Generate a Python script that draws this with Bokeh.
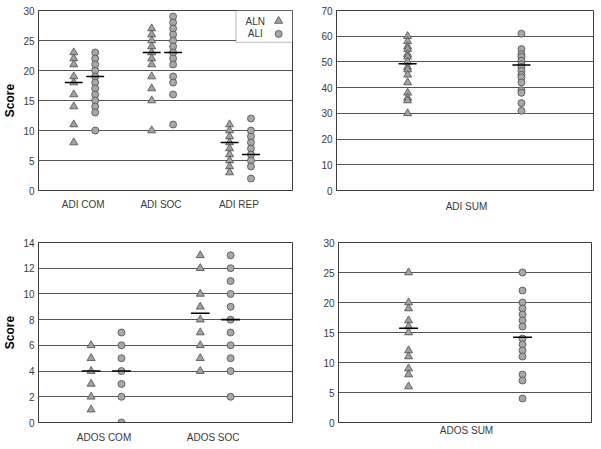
from bokeh.plotting import figure
from bokeh.layouts import column, row
from bokeh.models import Range1d, FixedTicker, BoxAnnotation, Label
from bokeh.embed import file_html
from bokeh.resources import INLINE

# ---------------- data ----------------
adi_cats = ["ADI COM", "ADI SOC", "ADI REP"]
adi_com_aln = [23, 22, 21, 19, 18, 16, 14, 11, 8]
adi_com_ali = [23, 22, 21, 20, 19, 18, 17, 16, 15, 14, 13, 10]
adi_soc_aln = [27, 26, 25, 24, 23, 22, 21, 19, 17, 15, 10]
adi_soc_ali = [29, 28, 27, 26, 25, 24, 23, 22, 21, 19, 18, 16, 11]
adi_rep_aln = [11, 10, 9, 8, 7, 6, 5, 4, 3]
adi_rep_ali = [12, 10, 9, 8, 7, 6, 5, 4, 2]
adi_med_aln = [18, 23, 8]
adi_med_ali = [19, 23, 6]

adi_sum_cats = ["ADI SUM"]
adi_sum_aln = [60, 58, 56, 55, 53, 52, 50, 48, 47, 45, 42, 38, 36, 35, 30]
adi_sum_ali = [61, 55, 53, 52, 50.5, 49, 48, 46.5, 45, 44, 42, 39, 38, 34, 31]
adi_sum_med_aln = [49.3]
adi_sum_med_ali = [48.8]

ados_cats = ["ADOS COM", "ADOS SOC"]
ados_com_aln = [6, 5, 4, 3, 2, 1]
ados_com_ali = [7, 6, 5, 4, 3, 2, 0]
ados_soc_aln = [13, 12, 10, 9, 8, 7, 6, 5, 4]
ados_soc_ali = [13, 12, 11, 10, 9, 8, 7, 6, 5, 4, 2]
ados_med_aln = [4, 8.5]
ados_med_ali = [4, 8]

ados_sum_cats = ["ADOS SUM"]
ados_sum_aln = [25, 20, 19, 17, 16, 15, 12, 11, 9, 8, 6]
ados_sum_ali = [25, 22, 20, 19, 18, 17, 16, 14, 13, 12, 11, 8, 7, 4]
ados_sum_med_aln = [15.7]
ados_sum_med_ali = [14.2]

series_names = ["ALN", "ALI"]

# ---------------- styling ----------------
FONT = "Liberation Sans"
TRI_FILL = "#a2a2a2"
CIR_FILL = "#a8a8a8"
EDGE = "#4a4a4a"
GRID = "#555555"


def make_panel(width, height, borders, x_range, y_max, y_step, cats, aln, ali,
               med_aln, med_ali, offsets, med_half, ylabel, label_standoff):
    l, r, t, b = borders
    p = figure(width=width, height=height,
               x_range=Range1d(*x_range), y_range=Range1d(0, y_max),
               output_backend="svg", toolbar_location=None,
               min_border_left=l, min_border_right=r,
               min_border_top=t, min_border_bottom=b)
    p.background_fill_color = "white"
    p.border_fill_color = "white"
    p.outline_line_color = "#3c3c3c"
    p.outline_line_width = 1
    p.xgrid.visible = False
    p.ygrid.grid_line_color = GRID
    p.ygrid.grid_line_width = 1

    p.yaxis.ticker = FixedTicker(ticks=list(range(0, y_max + 1, y_step)))
    p.xaxis.ticker = FixedTicker(ticks=list(range(len(cats))))
    p.xaxis.major_label_overrides = {i: s for i, s in enumerate(cats)}

    for ax in (p.xaxis[0], p.yaxis[0]):
        ax.axis_line_color = "#3c3c3c"
        ax.major_tick_out = 0
        ax.major_tick_in = 0
        ax.minor_tick_out = 0
        ax.minor_tick_in = 0
        ax.major_label_text_font = FONT
        ax.major_label_text_font_size = "10px"
        ax.major_label_text_color = "#3a3a3a"
    p.yaxis.major_label_standoff = 4
    p.xaxis.major_label_standoff = label_standoff
    if ylabel:
        p.yaxis.axis_label = ylabel
        p.yaxis.axis_label_text_font = FONT
        p.yaxis.axis_label_text_font_style = "bold"
        p.yaxis.axis_label_text_font_size = "12px"
        p.yaxis.axis_label_text_color = "black"
        p.yaxis.axis_label_standoff = 3

    for ci in range(len(cats)):
        xa = ci + offsets[0]
        xb = ci + offsets[1]
        p.scatter([xa] * len(aln[ci]), aln[ci], marker="triangle", size=8,
                  fill_color=TRI_FILL, line_color=EDGE, line_width=0.8)
        p.scatter([xb] * len(ali[ci]), ali[ci], marker="circle", size=7,
                  fill_color=CIR_FILL, line_color=EDGE, line_width=0.8)
        p.segment(x0=[xa - med_half, xb - med_half], x1=[xa + med_half, xb + med_half],
                  y0=[med_aln[ci], med_ali[ci]], y1=[med_aln[ci], med_ali[ci]],
                  line_color="black", line_width=1.6)
    return p


tl = make_panel(305, 228, (36, 13, 10, 38), (-0.573, 2.688), 30, 5, adi_cats,
                [adi_com_aln, adi_soc_aln, adi_rep_aln],
                [adi_com_ali, adi_soc_ali, adi_rep_ali],
                adi_med_aln, adi_med_ali, (-0.12, 0.155), 0.115, "Score", 8)

tr = make_panel(294, 228, (31, 6, 10, 37), (-1.656, 1.618), 70, 10, adi_sum_cats,
                [adi_sum_aln], [adi_sum_ali], adi_sum_med_aln, adi_sum_med_ali,
                (-0.75, 0.70), 0.115, None, 10)

bl = make_panel(305, 219, (36, 13, 14, 25), (-0.6, 1.727), 14, 2, ados_cats,
                [ados_com_aln, ados_soc_aln], [ados_com_ali, ados_soc_ali],
                ados_med_aln, ados_med_ali, (-0.118, 0.16), 0.086, "Score", 9)

br = make_panel(294, 219, (33, 8, 14, 25), (-1.164, 1.136), 30, 5, ados_sum_cats,
                [ados_sum_aln], [ados_sum_ali], ados_sum_med_aln, ados_sum_med_ali,
                (-0.527, 0.509), 0.086, None, 2)

# ---------------- legend (text left, marker right, as in the reference) ----------------
x_end = tl.x_range.end
y_end = tl.y_range.end
tl.add_layout(BoxAnnotation(left=1.962, right=x_end, top=y_end, bottom=24.7,
                            fill_color="white", fill_alpha=1.0,
                            line_color="#222222", line_width=1, level="underlay"))
leg_y = [y_end - 1.75, y_end - 3.9]
for name, yy in zip(series_names, leg_y):
    tl.add_layout(Label(x=2.21, y=yy, text=name, text_align="center",
                        text_baseline="middle", text_font=FONT,
                        text_font_size="10px", text_color="#3a3a3a"))
tl.scatter([2.51], [leg_y[0]], marker="triangle", size=8,
           fill_color=TRI_FILL, line_color=EDGE, line_width=0.8)
tl.scatter([2.51], [leg_y[1]], marker="circle", size=7,
           fill_color=CIR_FILL, line_color=EDGE, line_width=0.8)

layout = column(row(tl, tr), row(bl, br))
open("out.html", "w").write(file_html(layout, INLINE))
